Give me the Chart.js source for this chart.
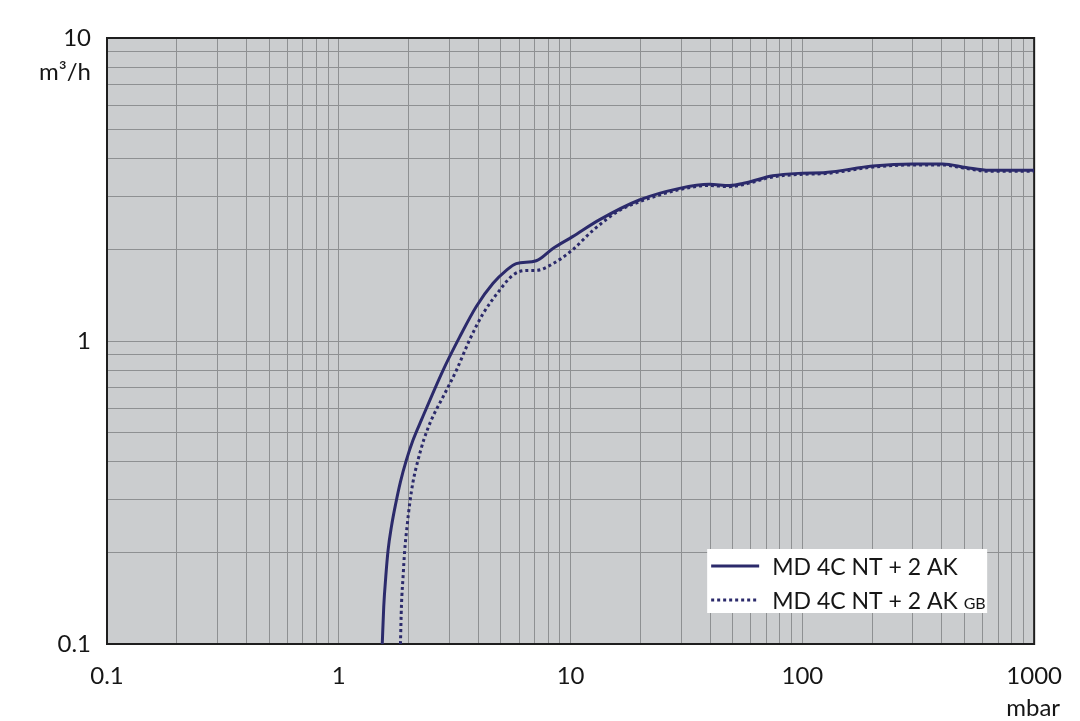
<!DOCTYPE html>
<html>
<head>
<meta charset="utf-8">
<script src="https://cdn.jsdelivr.net/npm/chart.js@4.4.1/dist/chart.umd.min.js"></script>
<style>
  html, body { margin: 0; padding: 0; background: #ffffff; }
  #wrap { width: 1080px; height: 721px; position: relative; }
</style>
</head>
<body>
<div id="wrap"><canvas id="c" width="1080" height="721"></canvas></div>
<script>
// ---- data ----
const solidPressure = [1.54, 1.563, 1.595, 1.632, 1.687, 1.761, 1.845, 1.958, 2.091, 2.273, 2.82, 3.32, 3.92, 4.63, 5.28, 5.83, 7.11, 8.39, 10.2, 13.3, 19.8, 29.5, 39.7, 48.5, 57.2, 74.5, 100, 126, 201, 299, 403, 508, 640, 1000];
const solidFlow     = [0.1, 0.133, 0.167, 0.204, 0.244, 0.291, 0.343, 0.405, 0.471, 0.549, 0.802, 1.03, 1.30, 1.55, 1.71, 1.80, 1.84, 2.02, 2.21, 2.51, 2.92, 3.19, 3.29, 3.26, 3.33, 3.51, 3.58, 3.60, 3.78, 3.84, 3.84, 3.74, 3.66, 3.66];
const gbPressure    = [1.845, 1.863, 1.894, 1.925, 1.97, 2.023, 2.091, 2.198, 2.325, 2.508, 2.82, 3.22, 3.67, 4.19, 4.94, 5.64, 6.44, 7.11, 8.39, 10.2, 12.5, 16.3, 19.8, 29.5, 39.7, 48.5, 57.2, 74.5, 100, 126, 201, 299, 403, 508, 640, 1000];
const gbFlow        = [0.1, 0.133, 0.167, 0.204, 0.244, 0.291, 0.343, 0.405, 0.471, 0.549, 0.655, 0.802, 1.01, 1.23, 1.47, 1.65, 1.71, 1.71, 1.80, 2.0, 2.32, 2.70, 2.88, 3.16, 3.26, 3.23, 3.30, 3.48, 3.55, 3.57, 3.75, 3.81, 3.81, 3.71, 3.63, 3.63];

const seriesNames   = ['MD 4C NT + 2 AK', 'MD 4C NT + 2 AK'];
const seriesSuffix  = ['', 'GB'];
const xTickLabels   = ['0.1', '1', '10', '100', '1000'];
const yTickLabels   = ['0.1', '1', '10'];
const yUnit = 'm³/h';
const xUnit = 'mbar';

// ---- styling ----
const FONT = 'Lato, "Open Sans", sans-serif';
const LINE_COLOR = '#2b2a6b';
const GRID_COLOR = '#8e9092';
const PLOT_BG = '#cbcdcf';
const TEXT_COLOR = '#161616';

function logGridValues(minExp, maxExp) {
  const out = [];
  for (let e = minExp; e < maxExp; e++) {
    for (let k = 1; k <= 9; k++) out.push(Number((k * Math.pow(10, e)).toPrecision(3)));
  }
  out.push(Number(Math.pow(10, maxExp).toPrecision(3)));
  return out;
}

const toPoints = (xs, ys) => xs.map((x, i) => ({ x: x, y: ys[i] }));

const decorPlugin = {
  id: 'decor',
  beforeDraw(chart) {
    const { ctx, chartArea: a } = chart;
    ctx.save();
    ctx.fillStyle = PLOT_BG;
    ctx.fillRect(a.left, a.top, a.right - a.left, a.bottom - a.top);
    ctx.restore();
  },
  beforeDatasetsDraw(chart) {
    const { ctx, chartArea: a } = chart;
    ctx.save();
    ctx.strokeStyle = '#1e1e1e';
    ctx.lineWidth = 2;
    ctx.strokeRect(a.left, a.top, a.right - a.left, a.bottom - a.top);
    ctx.restore();
  },
  afterDraw(chart) {
    const { ctx, chartArea: a } = chart;
    ctx.save();
    // unit labels
    ctx.fillStyle = TEXT_COLOR;
    ctx.font = '24px ' + FONT;
    ctx.textBaseline = 'middle';
    ctx.textAlign = 'right';
    ctx.fillText(yUnit, a.left - 16, a.top + 34);
    ctx.textAlign = 'center';
    ctx.fillText(xUnit, a.right - 1, a.bottom + 64);

    // legend
    const bx = a.right - 327, by = a.bottom - 95, bw = 280, bh = 64;
    ctx.fillStyle = '#ffffff';
    ctx.fillRect(bx, by, bw, bh);
    const rows = [by + 17, by + 51];
    chart.data.datasets.forEach((ds, i) => {
      const y = rows[i];
      ctx.strokeStyle = ds.borderColor;
      ctx.lineWidth = 3;
      ctx.lineCap = 'butt';
      ctx.setLineDash(ds.borderDash || []);
      ctx.beginPath();
      ctx.moveTo(bx + 4, y);
      ctx.lineTo(bx + 52, y);
      ctx.stroke();
      ctx.setLineDash([]);
      ctx.fillStyle = TEXT_COLOR;
      ctx.textAlign = 'left';
      ctx.textBaseline = 'alphabetic';
      ctx.font = '23px ' + FONT;
      const tx = bx + 65;
      ctx.fillText(seriesNames[i], tx, y + 9);
      if (seriesSuffix[i]) {
        const w = ctx.measureText(seriesNames[i] + ' ').width;
        ctx.font = '16px ' + FONT;
        ctx.fillText(seriesSuffix[i], tx + w, y + 9);
      }
    });
    ctx.restore();
  }
};

new Chart(document.getElementById('c'), {
  type: 'line',
  data: {
    datasets: [
      {
        label: seriesNames[0],
        data: toPoints(solidPressure, solidFlow),
        borderColor: LINE_COLOR,
        borderWidth: 3,
        pointRadius: 0,
        cubicInterpolationMode: 'monotone',
        fill: false
      },
      {
        label: seriesNames[1] + ' ' + seriesSuffix[1],
        data: toPoints(gbPressure, gbFlow),
        borderColor: LINE_COLOR,
        borderWidth: 3,
        borderDash: [3, 3],
        borderCapStyle: 'butt',
        pointRadius: 0,
        cubicInterpolationMode: 'monotone',
        fill: false
      }
    ]
  },
  options: {
    responsive: false,
    animation: false,
    devicePixelRatio: 1,
    layout: { padding: { left: 0, top: 38, right: 45, bottom: 0 } },
    plugins: { legend: { display: false }, tooltip: { enabled: false } },
    scales: {
      x: {
        type: 'logarithmic',
        min: 0.1,
        max: 1000,
        afterBuildTicks: s => { s.ticks = logGridValues(-1, 3).map(v => ({ value: v })); },
        afterFit: s => { s.height = 77; },
        grid: { color: GRID_COLOR, lineWidth: 1, drawTicks: false },
        border: { display: false },
        ticks: {
          autoSkip: false,
          maxRotation: 0,
          padding: 18,
          color: TEXT_COLOR,
          font: { family: FONT, size: 24 },
          callback: v => (xTickLabels.includes(String(v)) ? String(v) : '')
        }
      },
      y: {
        type: 'logarithmic',
        min: 0.1,
        max: 10,
        afterBuildTicks: s => { s.ticks = logGridValues(-1, 1).map(v => ({ value: v })); },
        afterFit: s => { s.width = 107; },
        grid: { color: GRID_COLOR, lineWidth: 1, drawTicks: false },
        border: { display: false },
        ticks: {
          autoSkip: false,
          padding: 16,
          color: TEXT_COLOR,
          font: { family: FONT, size: 24 },
          callback: v => (yTickLabels.includes(String(v)) ? String(v) : '')
        }
      }
    }
  },
  plugins: [decorPlugin]
});
</script>
</body>
</html>
